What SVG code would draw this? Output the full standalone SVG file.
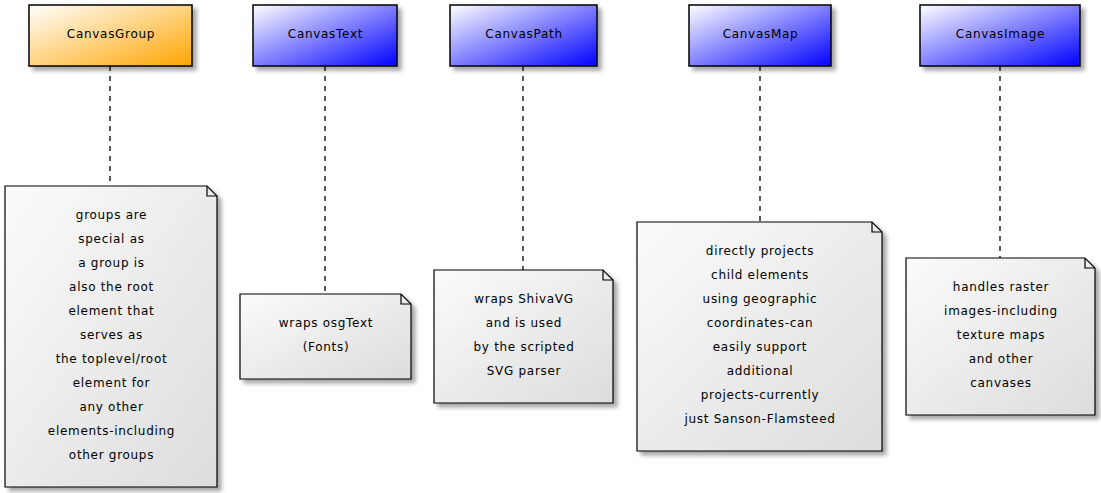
<svg xmlns="http://www.w3.org/2000/svg" width="1101" height="493" viewBox="0 0 1101 493">
<style>
.box{stroke:#000;stroke-width:1.5}
.note{fill:url(#gNote);stroke:#000;stroke-width:1.2}
.fold{fill:none;stroke:#000;stroke-width:1.2}
.t{font-family:"DejaVu Sans",Verdana,sans-serif;font-size:12px;letter-spacing:0.7px;fill:#000;text-anchor:middle}
.conn{stroke:#000;stroke-width:1.3;stroke-dasharray:5,5;fill:none}
</style>
<defs>
<linearGradient id="gOrange" x1="0" y1="0" x2="1" y2="1"><stop offset="0" stop-color="#FFFFFF"/><stop offset="1" stop-color="#FFA500"/></linearGradient>
<linearGradient id="gBlue" x1="0" y1="0" x2="1" y2="1"><stop offset="0" stop-color="#FFFFFF"/><stop offset="1" stop-color="#0000FF"/></linearGradient>
<linearGradient id="gNote" x1="0" y1="0" x2="1" y2="1"><stop offset="0" stop-color="#FBFBFB"/><stop offset="1" stop-color="#DCDCDC"/></linearGradient>
<filter id="sh" x="-10%" y="-10%" width="130%" height="130%"><feGaussianBlur in="SourceAlpha" stdDeviation="2"/><feOffset dx="4" dy="4" result="b"/><feComponentTransfer><feFuncA type="linear" slope="0.35"/></feComponentTransfer><feMerge><feMergeNode/><feMergeNode in="SourceGraphic"/></feMerge></filter>
</defs>
<g id="connectors">
<line class="conn" x1="110" y1="66" x2="110" y2="186"/>
<line class="conn" x1="325" y1="66" x2="325" y2="294"/>
<line class="conn" x1="523" y1="66" x2="523" y2="270"/>
<line class="conn" x1="760" y1="66" x2="760" y2="222"/>
<line class="conn" x1="1000" y1="66" x2="1000" y2="258"/>
</g>
<g id="CanvasGroup"><rect class="box" x="29" y="5" width="163" height="61" fill="url(#gOrange)" filter="url(#sh)"/><text class="t" x="111" y="38">CanvasGroup</text></g>
<g id="CanvasText"><rect class="box" x="253" y="5" width="144" height="61" fill="url(#gBlue)" filter="url(#sh)"/><text class="t" x="325.5" y="38">CanvasText</text></g>
<g id="CanvasPath"><rect class="box" x="450" y="5" width="147" height="61" fill="url(#gBlue)" filter="url(#sh)"/><text class="t" x="524" y="38">CanvasPath</text></g>
<g id="CanvasMap"><rect class="box" x="689" y="5" width="142" height="61" fill="url(#gBlue)" filter="url(#sh)"/><text class="t" x="760.5" y="38">CanvasMap</text></g>
<g id="CanvasImage"><rect class="box" x="920" y="5" width="160" height="61" fill="url(#gBlue)" filter="url(#sh)"/><text class="t" x="1000.5" y="38">CanvasImage</text></g>
<g id="noteGroup">
<path class="note" filter="url(#sh)" d="M5,186 L207,186 L217,196 L217,487 L5,487 Z"/>
<path class="fold" d="M207,186 L207,196 L217,196"/>
<text class="t" x="111.5" y="219">groups are</text>
<text class="t" x="111.5" y="243">special as</text>
<text class="t" x="111.5" y="267">a group is</text>
<text class="t" x="111.5" y="291">also the root</text>
<text class="t" x="111.5" y="315">element that</text>
<text class="t" x="111.5" y="339">serves as</text>
<text class="t" x="111.5" y="363">the toplevel/root</text>
<text class="t" x="111.5" y="387">element for</text>
<text class="t" x="111.5" y="411">any other</text>
<text class="t" x="111.5" y="435">elements-including</text>
<text class="t" x="111.5" y="459">other groups</text>
</g>
<g id="noteText">
<path class="note" filter="url(#sh)" d="M240,294 L401,294 L411,304 L411,379 L240,379 Z"/>
<path class="fold" d="M401,294 L401,304 L411,304"/>
<text class="t" x="326" y="327">wraps osgText</text>
<text class="t" x="326" y="351">(Fonts)</text>
</g>
<g id="notePath">
<path class="note" filter="url(#sh)" d="M434,270 L603,270 L613,280 L613,403 L434,403 Z"/>
<path class="fold" d="M603,270 L603,280 L613,280"/>
<text class="t" x="524" y="303">wraps ShivaVG</text>
<text class="t" x="524" y="327">and is used</text>
<text class="t" x="524" y="351">by the scripted</text>
<text class="t" x="524" y="375">SVG parser</text>
</g>
<g id="noteMap">
<path class="note" filter="url(#sh)" d="M637,222 L872,222 L882,232 L882,451 L637,451 Z"/>
<path class="fold" d="M872,222 L872,232 L882,232"/>
<text class="t" x="760" y="255">directly projects</text>
<text class="t" x="760" y="279">child elements</text>
<text class="t" x="760" y="303">using geographic</text>
<text class="t" x="760" y="327">coordinates-can</text>
<text class="t" x="760" y="351">easily support</text>
<text class="t" x="760" y="375">additional</text>
<text class="t" x="760" y="399">projects-currently</text>
<text class="t" x="760" y="423">just Sanson-Flamsteed</text>
</g>
<g id="noteImage">
<path class="note" filter="url(#sh)" d="M906,258 L1085,258 L1095,268 L1095,415 L906,415 Z"/>
<path class="fold" d="M1085,258 L1085,268 L1095,268"/>
<text class="t" x="1001" y="291">handles raster</text>
<text class="t" x="1001" y="315">images-including</text>
<text class="t" x="1001" y="339">texture maps</text>
<text class="t" x="1001" y="363">and other</text>
<text class="t" x="1001" y="387">canvases</text>
</g>
</svg>
